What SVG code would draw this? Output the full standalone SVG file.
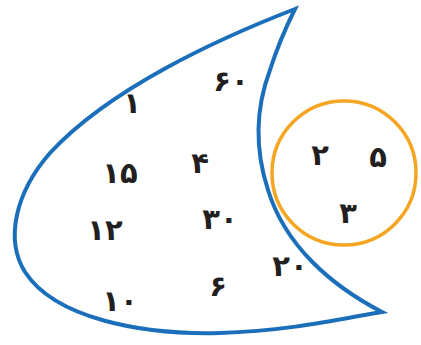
<svg xmlns="http://www.w3.org/2000/svg" width="421" height="345" viewBox="0 0 421 345">
<style>
.set{fill:none;stroke-linejoin:miter;stroke-miterlimit:20}
.blue{stroke:#1b6fba;stroke-width:4}
.orange{stroke:#f4a522;stroke-width:3.5}
text{font-family:"DejaVu Sans","Noto Sans",sans-serif;font-size:29px;font-weight:bold;fill:#231f20;text-anchor:middle;dominant-baseline:central}
</style>
<rect width="421" height="345" fill="#fff"/>
<g id="set-a">
<path class="set blue" d="M295,9 C220,38 110,88 50,153 C15,193 5,240 25,272 C55,318 140,335 220,333 C290,331 345,318 382,312 C330,285 285,245 268,190 C255,150 255,110 270,70 C278,45 287,25 295,9 Z"/>
<text x="231" y="81">۶۰</text>
<text x="132" y="103">۱</text>
<text x="120" y="173">۱۵</text>
<text x="200" y="163">۴</text>
<text x="105" y="230">۱۲</text>
<text x="220" y="219">۳۰</text>
<text x="218" y="286">۶</text>
<text x="290" y="266">۲۰</text>
<text x="120" y="301">۱۰</text>
</g>
<g id="set-b">
<circle class="set orange" cx="344" cy="173" r="72"/>
<text x="320" y="155">۲</text>
<text x="378" y="157">۵</text>
<text x="348" y="213">۳</text>
</g>
</svg>
